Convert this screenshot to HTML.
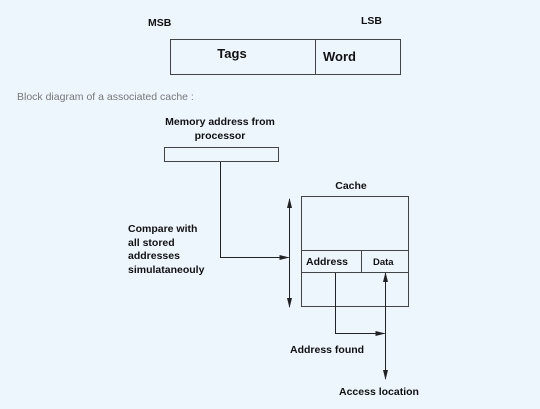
<!DOCTYPE html>
<html><head><style>
html,body{margin:0;padding:0;background:#eef6fd;}
svg{display:block;}
text{font-family:"Liberation Sans",sans-serif;font-weight:bold;font-size:10.5px;fill:#111;}
</style></head><body>
<svg width="540" height="409" viewBox="0 0 540 409" xmlns="http://www.w3.org/2000/svg">
<defs>
<marker id="a" markerWidth="10" markerHeight="6" refX="9" refY="3" orient="auto" markerUnits="userSpaceOnUse"><path d="M0,0.5 L10,3 L0,5.5 z" fill="#222"/></marker>
</defs>
<text x="148" y="26">MSB</text>
<text x="361" y="24">LSB</text>
<g fill="none" stroke="#444" stroke-width="1">
<rect x="170.5" y="39.5" width="230" height="35"/>
<line x1="315.5" y1="39.5" x2="315.5" y2="74.5"/>
<rect x="164.5" y="147.5" width="114" height="14"/>
<rect x="301.5" y="196.5" width="107" height="110"/>
<line x1="301.5" y1="250.5" x2="408.5" y2="250.5"/>
<line x1="301.5" y1="272.5" x2="408.5" y2="272.5"/>
<line x1="361.5" y1="250.5" x2="361.5" y2="272.5"/>
</g>
<g fill="none" stroke="#222" stroke-width="1">
<polyline points="220.5,162 220.5,257.5 288.5,257.5" marker-end="url(#a)"/>
<line x1="289.5" y1="258" x2="289.5" y2="199" marker-end="url(#a)"/>
<line x1="289.5" y1="258" x2="289.5" y2="307" marker-end="url(#a)"/>
<polyline points="335.5,273 335.5,333.5 384.5,333.5" marker-end="url(#a)"/>
<line x1="385.5" y1="333" x2="385.5" y2="273" marker-end="url(#a)"/>
<line x1="385.5" y1="333" x2="385.5" y2="379" marker-end="url(#a)"/>
</g>
<text x="232" y="58" style="font-size:13px" text-anchor="middle">Tags</text>
<text x="323" y="61" style="font-size:13px">Word</text>
<text x="17" y="100" style="font-weight:normal;font-size:10.5px;fill:#777">Block diagram of a associated cache :</text>
<text x="220" y="125" text-anchor="middle">Memory address from</text>
<text x="220" y="139" text-anchor="middle">processor</text>
<text x="351" y="189" text-anchor="middle">Cache</text>
<text x="128" y="232">Compare with</text>
<text x="128" y="246">all stored</text>
<text x="128" y="259">addresses</text>
<text x="128" y="273">simulataneouly</text>
<text x="306" y="265">Address</text>
<text x="373" y="265" style="font-size:9.5px">Data</text>
<text x="290" y="353">Address found</text>
<text x="339" y="395">Access location</text>
</svg>
</body></html>
